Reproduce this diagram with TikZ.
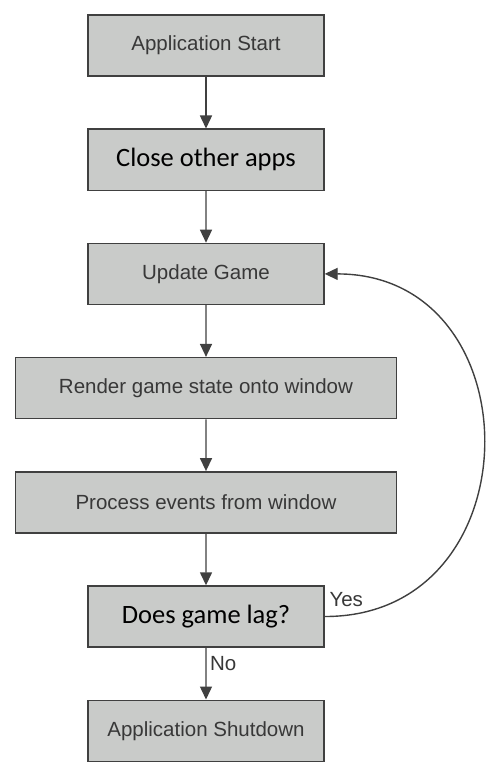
\documentclass[tikz,border=0pt]{standalone}
\usepackage{fontspec}
\setmainfont{Liberation Sans}
\newfontfamily\calibri{Carlito}
\usetikzlibrary{arrows.meta}
\definecolor{boxfill}{HTML}{C9CBC9}
\definecolor{boxline}{HTML}{404040}
\definecolor{boxtext}{HTML}{383838}

\begin{document}
\begin{tikzpicture}[x=1pt,y=-1pt,
	every node/.style={font=\fontsize{20.5}{24}\selectfont,text=boxtext},
	box/.style={draw=boxline,line width=1.4pt,fill=boxfill,minimum width=236pt,minimum height=61pt,inner sep=0},
	widebox/.style={box,minimum width=381pt},
	bigtext/.style={font=\calibri\fontsize{26.5}{30}\selectfont,text=black},
	level distance=114.2pt,
	edge from parent/.style={draw,line width=1.4pt,boxline,-{Triangle[width=12pt,length=13pt]}}]
\useasboundingbox[fill=white] (0,0) rectangle (500,778);
\node[box] (start) at (206,45.5) {Application Start}
child {node[box,bigtext] (close) {Close other apps}
	child {node[box] (update) {Update Game}
		child {node[widebox] (render) {Render game state onto window}
			child {node[widebox] (events) {Process events from window}
				child {node[box,bigtext] (lag) {Does game lag?}
					child {node[box] (shutdown) {Application Shutdown}
						edge from parent node[right,pos=0.3] (no) {No}}
					}
				}
			}
		}
	};
\draw[line width=1.4pt,boxline,-{Triangle[width=12pt,length=13pt]}] (lag.east) .. controls (536,617) and (536,274) .. (update.east);
\node[right] (yes) at (326,600) {Yes};
\end{tikzpicture}
\end{document}
